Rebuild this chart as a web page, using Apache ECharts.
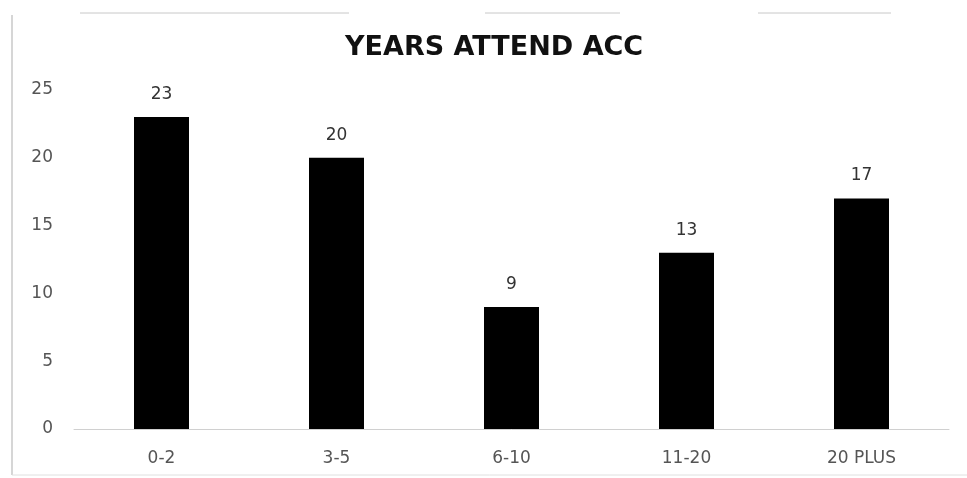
<!DOCTYPE html>
<html>
<head>
<meta charset="utf-8">
<script src="https://cdn.jsdelivr.net/npm/echarts@6/dist/echarts.min.js"></script>
<style>
  html, body { margin: 0; padding: 0; background: #fff; }
  #chart { width: 967px; height: 478px; }
</style>
</head>
<body>
<div id="chart"></div>
<script>
// Survey responses: how many years respondents have attended ACC
const categories = ['0-2', '3-5', '6-10', '11-20', '20 PLUS'];
const counts = [23, 20, 9, 13, 17];
const yTicks = [0, 5, 10, 15, 20, 25];

const chart = echarts.init(document.getElementById('chart'), null, { renderer: 'canvas' });

const labelFont = '"DejaVu Sans", Verdana, sans-serif';

chart.setOption({
  backgroundColor: '#ffffff',
  animation: false,
  title: {
    text: 'YEARS ATTEND ACC',
    left: 340,
    top: 29,
    textStyle: {
      fontFamily: '"DejaVu Sans", sans-serif',
      fontWeight: 'bold',
      fontSize: 27,
      color: '#111111'
    }
  },
  grid: { left: 74, right: 18, top: 90, bottom: 49, containLabel: false },
  xAxis: {
    type: 'category',
    data: categories,
    axisLine: { show: true, lineStyle: { color: '#d0d0d0', width: 1 } },
    axisTick: { show: false },
    axisLabel: { color: '#555555', fontFamily: labelFont, fontSize: 17, margin: 21 }
  },
  yAxis: {
    type: 'value',
    min: yTicks[0],
    max: yTicks[yTicks.length - 1],
    interval: yTicks[1] - yTicks[0],
    axisLine: { show: false },
    axisTick: { show: false },
    splitLine: { show: false },
    axisLabel: { color: '#555555', fontFamily: labelFont, fontSize: 17, margin: 21 }
  },
  series: [{
    type: 'bar',
    data: counts,
    barWidth: 55,
    itemStyle: { color: '#000000' },
    label: {
      show: true,
      position: 'top',
      distance: 14,
      color: '#333333',
      fontFamily: labelFont,
      fontSize: 17
    }
  }],
  graphic: [
    // page rules above the chart box
    { type: 'line', shape: { x1: 80, y1: 13, x2: 349, y2: 13 }, style: { stroke: '#c8c8c8', lineWidth: 1 } },
    { type: 'line', shape: { x1: 485, y1: 13, x2: 620, y2: 13 }, style: { stroke: '#c8c8c8', lineWidth: 1 } },
    { type: 'line', shape: { x1: 758, y1: 13, x2: 891, y2: 13 }, style: { stroke: '#c8c8c8', lineWidth: 1 } },
    // chart frame edges
    { type: 'line', shape: { x1: 12, y1: 15, x2: 12, y2: 475 }, style: { stroke: '#c8c8c8', lineWidth: 1.5 } },
    { type: 'line', shape: { x1: 12, y1: 475, x2: 967, y2: 475 }, style: { stroke: '#e0e0e0', lineWidth: 1 } }
  ]
});
</script>
</body>
</html>
